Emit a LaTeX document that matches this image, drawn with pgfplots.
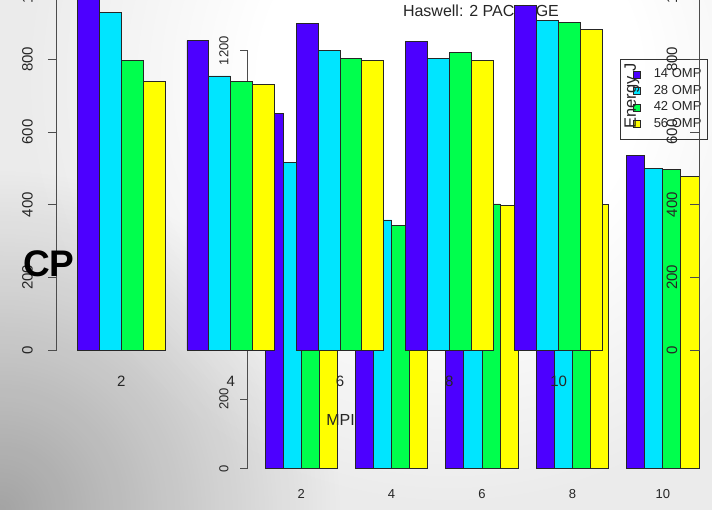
\documentclass[border=0pt]{standalone}
\usepackage{fontspec}
\setmainfont{Liberation Sans}
\usepackage{pgfplots}
\usepackage{pgfplotstable}
\usetikzlibrary{fadings}
\pgfplotsset{compat=1.18}
\definecolor{cpurple}{HTML}{4C00FF}
\definecolor{ccyan}{HTML}{00E5FF}
\definecolor{cgreen}{HTML}{00FF4D}
\definecolor{cyellow}{HTML}{FFFF00}
\definecolor{txt}{HTML}{262626}
\pgfdeclareradialshading{bgshade}{\pgfpoint{0bp}{0bp}}{color(0bp)=(white); color(11bp)=(white); color(25bp)=(black!8); color(50bp)=(black!8)}
\tikzfading[name=cornerfade, inner color=transparent!0, outer color=transparent!100]

% Haswell front chart (energy J), MPI ranks x OMP threads
\pgfplotstableread{
mpi p14 p28 p42 p56
2 1010 928 797 738
4 851 754 738 731
6 898 824 803 797
8 848 801 819 797
10 947 906 902 882
}\tabA
% Haswell: 2 PACKAGE (back chart)
\pgfplotstableread{
mpi p14 p28 p42 p56
2 1020 880 860 830
4 800 714 698 690
6 830 770 760 755
8 880 790 770 758
10 900 862 858 840
}\tabB

\pgfplotsset{
  rbar/.style={
    ybar, enlargelimits=false, scale only axis, clip=false,
    axis y line*=left, axis x line*=bottom,
    x axis line style={draw=none}, xtick style={draw=none},
    y axis line style={draw=black!70, line width=0.8pt},
    ytick style={draw=black!70, line width=0.8pt},
    tick align=outside, xmin=0.82, xmax=11.2, ymin=0,
    xtick={2,4,6,8,10},
    bar width=0.4,
    /pgf/number format/assume math mode=true,
    /pgf/number format/1000 sep={},
    tick label style={text=txt},
    every axis plot/.append style={draw=black!85, line width=0.9pt},
  },
}

\begin{document}
\begin{tikzpicture}
\useasboundingbox (0pt,0pt) rectangle (712pt,510pt);
\clip (0pt,0pt) rectangle (712pt,510pt);
\fill[black!8] (0pt,0pt) rectangle (712pt,510pt);
\shade[shading=bgshade] (450pt,430pt) circle (430pt);
\fill[black, opacity=0.3, path fading=cornerfade] (0pt,0pt) circle (340pt);

% ---------- back chart B ----------
\begin{axis}[rbar,
  at={(247.86pt,41.3pt)}, anchor=south west,
  width=469.2pt, height=418pt, ymax=1200,
  ytick={0,200,...,1200}, major tick length=7.7pt,
  yticklabel style={xshift=-16.2pt, rotate=90, anchor=center, font=\fontsize{13}{13}\selectfont},
  xticklabel style={anchor=center, yshift=-17.6pt, font=\fontsize{13}{13}\selectfont},
  title={Haswell: 2 PACKAGE},
  title style={at={(axis description cs:0.5,1)}, anchor=center, yshift=34pt, xshift=-1.5pt,
    font=\fontsize{16}{16}\selectfont, text=txt},
  legend style={at={(axis description cs:0.7925,0.9809)}, anchor=north west,
    draw=black!80, line width=0.6pt, fill=none,
    font=\fontsize{13}{13}\selectfont, text=txt,
    nodes={inner sep=0pt, text height=9.5pt, text depth=2.5pt},
    inner xsep=6pt, inner ysep=9.5pt, row sep=4.5pt,
    /tikz/every odd column/.append style={column sep=13pt}},
  legend cell align=left,
  legend image code/.code={\path (0pt,0pt); \draw[#1, line width=0.6pt] (7pt,-3.5pt) rectangle (14pt,3.5pt);},
]
\addplot[fill=cpurple, bar shift=-0.6] table[x=mpi, y=p14] {\tabB};
\addplot[fill=ccyan,   bar shift=-0.2] table[x=mpi, y=p28] {\tabB};
\addplot[fill=cgreen,  bar shift=0.2]  table[x=mpi, y=p42] {\tabB};
\addplot[fill=cyellow, bar shift=0.6]  table[x=mpi, y=p56] {\tabB};
\legend{14 OMP, 28 OMP, 42 OMP, 56 OMP}
\end{axis}

% ---------- right partial axis C ----------
\begin{axis}[rbar,
  at={(699.5pt,160pt)}, anchor=south west,
  width=567.3pt, height=363.4pt, ymax=1000,
  ytick={0,200,...,1000}, major tick length=9.5pt, xtick=\empty,
  yticklabel style={xshift=-18pt, rotate=90, anchor=center, font=\fontsize{15}{15}\selectfont},
  ylabel={Energy J},
  ylabel style={at={(axis description cs:0,0.699)}, anchor=center, yshift=67.5pt,
    font=\fontsize{16.5}{16.5}\selectfont, text=txt},
]
\end{axis}

% ---------- front chart A ----------
\begin{axis}[rbar,
  at={(56.9pt,160pt)}, anchor=south west,
  width=567.3pt, height=363.4pt, ymax=1000,
  ytick={0,200,...,1000}, major tick length=9pt,
  yticklabel style={xshift=-20.4pt, rotate=90, anchor=center, font=\fontsize{15}{15}\selectfont},
  xticklabel style={anchor=center, yshift=-22pt, font=\fontsize{15}{15}\selectfont},
  xlabel={MPI},
  xlabel style={at={(axis description cs:0.5,0)}, anchor=center, yshift=-70pt,
    font=\fontsize{16}{16}\selectfont, text=txt},
]
\addplot[fill=cpurple, bar shift=-0.6] table[x=mpi, y=p14] {\tabA};
\addplot[fill=ccyan,   bar shift=-0.2] table[x=mpi, y=p28] {\tabA};
\addplot[fill=cgreen,  bar shift=0.2]  table[x=mpi, y=p42] {\tabA};
\addplot[fill=cyellow, bar shift=0.6]  table[x=mpi, y=p56] {\tabA};
\end{axis}

\node[anchor=base west, inner sep=0pt, font=\bfseries\fontsize{37}{37}\selectfont, text=black] at (23pt,233.3pt) {CP};
\end{tikzpicture}
\end{document}
